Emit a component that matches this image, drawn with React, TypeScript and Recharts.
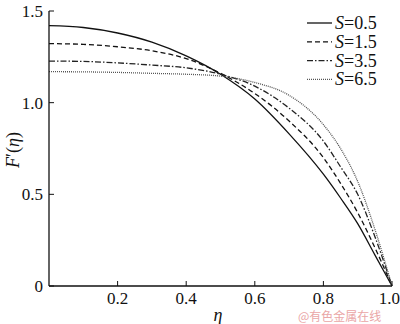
import { LineChart, Line, XAxis, YAxis, Label } from "recharts";

// eta grid and F'(eta) for each S
const ETA = [0, 0.1, 0.2, 0.3, 0.4, 0.5, 0.6, 0.7, 0.8, 0.85, 0.9, 0.95, 1.0];
const S05 = [1.42, 1.41, 1.38, 1.33, 1.255, 1.155, 1.02, 0.83, 0.61, 0.48, 0.34, 0.17, 0];
const S15 = [1.322, 1.318, 1.305, 1.283, 1.24, 1.16, 1.05, 0.9, 0.7, 0.56, 0.4, 0.21, 0];
const S35 = [1.227, 1.225, 1.217, 1.205, 1.19, 1.155, 1.09, 0.97, 0.79, 0.65, 0.5, 0.27, 0];
const S65 = [1.169, 1.168, 1.165, 1.16, 1.155, 1.145, 1.11, 1.04, 0.88, 0.75, 0.57, 0.31, 0];

const X_TICKS = [0.2, 0.4, 0.6, 0.8, 1.0];
const Y_TICKS = [0, 0.5, 1.0, 1.5];

const SERIES = [
  { key: "s05", label: "0.5", dash: undefined, color: "#111" },
  { key: "s15", label: "1.5", dash: "5 3", color: "#111" },
  { key: "s35", label: "3.5", dash: "6 2 1.5 2", color: "#222" },
  { key: "s65", label: "6.5", dash: "1 1", color: "#555" },
];

const data = ETA.map((eta, i) => ({
  eta,
  s05: S05[i],
  s15: S15[i],
  s35: S35[i],
  s65: S65[i],
}));

const FONT = "Liberation Serif, serif";
const tickStyle = { fontSize: 17, fill: "#111", fontFamily: FONT };

const fmt = (v: number) => (v === 0 ? "0" : v.toFixed(1));

export default function App() {
  return (
    <div style={{ position: "absolute", left: 0, top: 0, width: 400, height: 324, background: "#fff", fontFamily: FONT }}>
      <LineChart width={400} height={324} data={data} margin={{ top: 11, right: 8, left: 0, bottom: 0 }} style={{ fontFamily: FONT }}>
        <XAxis
          dataKey="eta"
          type="number"
          domain={[0, 1]}
          ticks={X_TICKS}
          tickFormatter={fmt}
          height={38}
          tickSize={-5}
          tickMargin={11}
          tick={tickStyle}
          axisLine={{ stroke: "#111", strokeWidth: 1.3 }}
          tickLine={{ stroke: "#111" }}
        >
          <Label
            content={() => (
              <text x={218} y={321} textAnchor="middle" fontSize={18} fontStyle="italic" fontFamily={FONT} fill="#111">
                η
              </text>
            )}
          />
        </XAxis>
        <XAxis xAxisId="top" dataKey="eta" type="number" domain={[0, 1]} orientation="top" height={0} tick={false} tickLine={false} axisLine={{ stroke: "#111", strokeWidth: 1.3 }} />
        <YAxis
          type="number"
          domain={[0, 1.5]}
          ticks={Y_TICKS}
          tickFormatter={fmt}
          width={49}
          tickSize={-5}
          tickMargin={11}
          tick={tickStyle}
          axisLine={{ stroke: "#111", strokeWidth: 1.3 }}
          tickLine={{ stroke: "#111" }}
        >
          <Label
            content={() => (
              <text
                x={0}
                y={0}
                transform="translate(19 150) rotate(-90)"
                textAnchor="middle"
                fontSize={18}
                fontFamily={FONT}
                fill="#111"
              >
                <tspan fontStyle="italic">F</tspan>
                <tspan>′(</tspan>
                <tspan fontStyle="italic">η</tspan>
                <tspan>)</tspan>
              </text>
            )}
          />
        </YAxis>
        <YAxis yAxisId="right" type="number" domain={[0, 1.5]} orientation="right" width={0} tick={false} tickLine={false} axisLine={{ stroke: "#111", strokeWidth: 1.3 }} />
        {SERIES.map((s) => (
          <Line
            key={s.key}
            dataKey={s.key}
            type="monotone"
            stroke={s.color}
            strokeWidth={1.3}
            strokeDasharray={s.dash}
            dot={false}
            isAnimationActive={false}
          />
        ))}
      </LineChart>

      {/* legend, top right inside the frame */}
      <svg style={{ position: "absolute", left: 300, top: 12, overflow: "visible" }} width={90} height={80}>
        {SERIES.map((s, i) => (
          <g key={s.key} transform={`translate(0 ${11 + i * 18.8})`}>
            <line x1={7} x2={32} y1={0} y2={0} stroke={s.color} strokeWidth={1.3} strokeDasharray={s.dash} />
            <text x={35} y={6} fontSize={18} fontFamily={FONT} fill="#111">
              <tspan fontStyle="italic">S</tspan>={s.label}
            </text>
          </g>
        ))}
      </svg>

      <div
        style={{
          position: "absolute",
          left: 298,
          top: 309,
          fontSize: 12,
          lineHeight: "13px",
          color: "#eaa6a6",
          fontFamily: "'Noto Sans CJK SC', sans-serif",
          whiteSpace: "nowrap",
        }}
      >
        @有色金属在线
      </div>
    </div>
  );
}
